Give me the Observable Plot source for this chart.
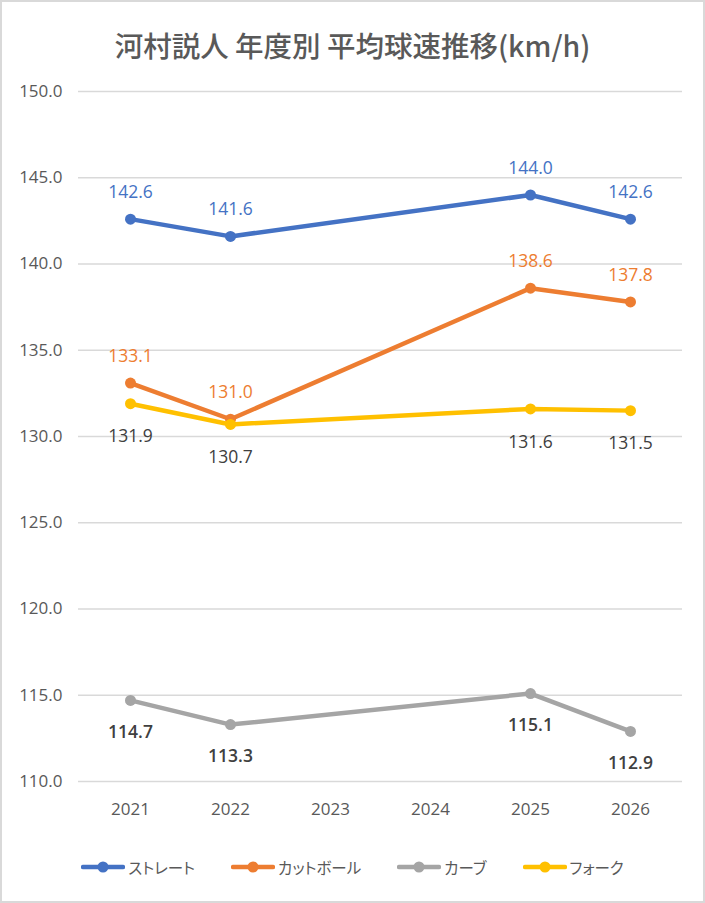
<!DOCTYPE html>
<html>
<head>
<meta charset="utf-8">
<script src="https://cdn.jsdelivr.net/npm/d3@7"></script>
<script src="https://cdn.jsdelivr.net/npm/@observablehq/plot@0.6"></script>
<style>
  html, body { margin: 0; padding: 0; background: #fff; }
  #wrap { position: relative; width: 705px; height: 903px; overflow: hidden; background: #fff; }
  #frame { position: absolute; left: 0; top: 0; width: 705px; height: 903px; box-sizing: border-box; border: 2px solid #d9d9d9; pointer-events: none; }
  #title { position: absolute; left: 0; top: 25px; width: 705px; text-align: center;
    font-family: "Noto Sans CJK JP", "Noto Sans", sans-serif; font-size: 28.5px; font-weight: 500; color: #595959; line-height: 40px; }
  #chart { position: absolute; left: 0; top: 70px; }
  #legend { position: absolute; left: 0; top: 856px; width: 705px; display: flex; justify-content: center; align-items: center;
    font-family: "Noto Sans CJK JP", "Noto Sans", sans-serif; font-size: 15.5px; color: #595959; font-feature-settings: "palt"; }
  .item { display: flex; align-items: center; margin: 0 18px; }
  .item svg { margin-right: 3px; }
</style>
</head>
<body>
<div id="wrap">
  <div id="title"></div>
  <div id="chart"></div>
  <div id="legend"></div>
  <div id="frame"></div>
</div>
<script>
const titleText = "河村説人 年度別 平均球速推移(km/h)";
const years = ["2021", "2022", "2023", "2024", "2025", "2026"];
const dataYears = ["2021", "2022", "2025", "2026"];
const seriesNames = ["ストレート", "カットボール", "カーブ", "フォーク"];
const straight = [142.6, 141.6, 144.0, 142.6];
const cutter = [133.1, 131.0, 138.6, 137.8];
const curve = [114.7, 113.3, 115.1, 112.9];
const fork = [131.9, 130.7, 131.6, 131.5];
const yTicks = [110, 115, 120, 125, 130, 135, 140, 145, 150];
const colors = ["#4472C4", "#ED7D31", "#A5A5A5", "#FFC000"];

const seriesValues = [straight, cutter, curve, fork];
const rows = seriesNames.map((s, i) => dataYears.map((y, j) => ({series: s, year: y, value: seriesValues[i][j]})));

const labelStyle = [
  {dy: -27, fill: "#4472C4", weight: "normal"},
  {dy: -27, fill: "#ED7D31", weight: "normal"},
  {dy: 32, fill: "#404040", weight: 600},
  {dy: 33, fill: "#404040", weight: "normal"}
];

const marks = [
  Plot.gridY(yTicks, {stroke: "#d9d9d9", strokeOpacity: 1, strokeWidth: 1.3}),
  Plot.axisY(yTicks, {tickSize: 0, tickPadding: 16, tickFormat: d3.format(".1f"), fill: "#595959", fontSize: 17}),
  Plot.axisX(years, {tickSize: 0, tickPadding: 21, fill: "#595959", fontSize: 17})
];
rows.forEach((data, i) => {
  marks.push(Plot.line(data, {x: "year", y: "value", stroke: colors[i], strokeWidth: 4.5, strokeLinecap: "round", strokeLinejoin: "round"}));
  marks.push(Plot.dot(data, {x: "year", y: "value", fill: colors[i], r: 5.5, stroke: "none"}));
});
rows.forEach((data, i) => {
  const st = labelStyle[i];
  marks.push(Plot.text(data, {x: "year", y: "value", text: d => d.value.toFixed(1), dy: st.dy, fill: st.fill, fontWeight: st.weight, fontSize: 17.5}));
});

const chart = Plot.plot({
  width: 705,
  height: 770,
  marginTop: 21,
  marginBottom: 59,
  marginLeft: 78,
  marginRight: 23,
  x: {type: "point", domain: years, padding: 0.5, label: null, axis: null},
  y: {domain: [110, 150], label: null, axis: null},
  style: {fontFamily: "'Open Sans', 'Noto Sans', sans-serif", fontSize: "17px", color: "#595959", background: "transparent"},
  marks
});
document.getElementById("chart").appendChild(chart);
document.getElementById("title").textContent = titleText;

const legend = document.getElementById("legend");
seriesNames.forEach((s, i) => {
  const item = document.createElement("div");
  item.className = "item";
  item.innerHTML = `<svg width="44" height="14"><line x1="2" y1="7" x2="42" y2="7" stroke="${colors[i]}" stroke-width="4.5" stroke-linecap="round"/><circle cx="22" cy="7" r="5.5" fill="${colors[i]}"/></svg><span>${s}</span>`;
  legend.appendChild(item);
});
</script>
</body>
</html>
